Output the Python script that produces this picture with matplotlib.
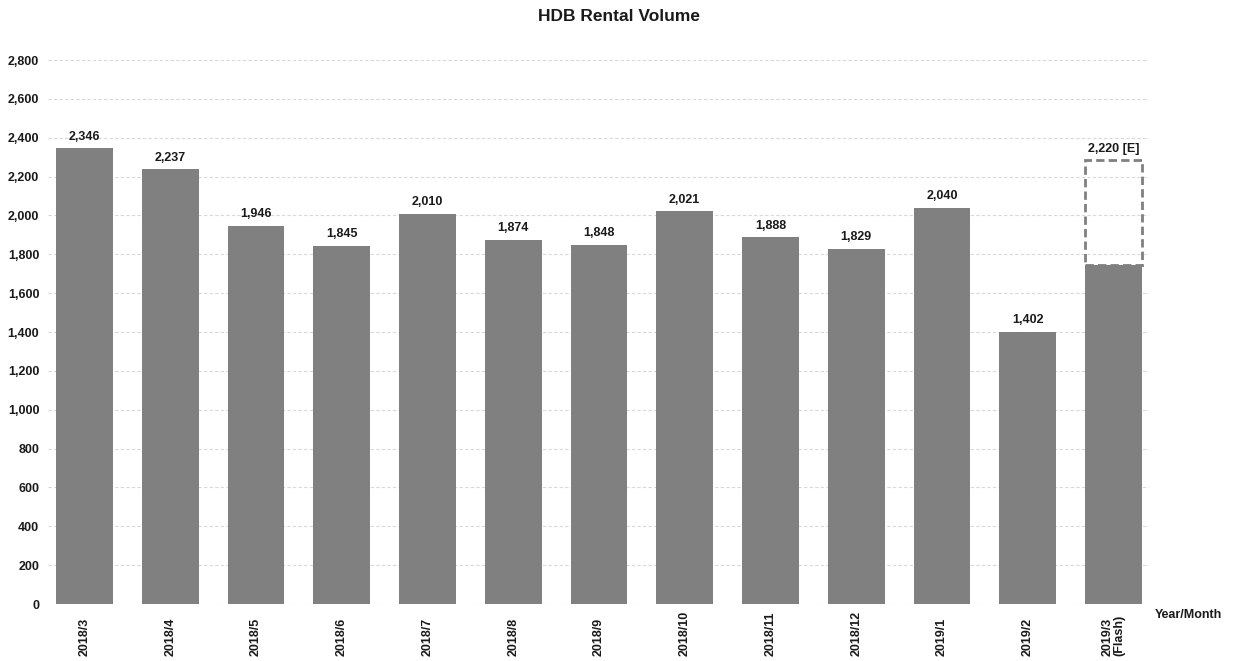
import matplotlib
matplotlib.use("Agg")
import matplotlib.pyplot as plt
from matplotlib.patches import Rectangle
from matplotlib.transforms import blended_transform_factory

plt.rcParams['font.family'] = ['Liberation Sans', 'DejaVu Sans']

months = ["2018/3", "2018/4", "2018/5", "2018/6", "2018/7", "2018/8", "2018/9",
          "2018/10", "2018/11", "2018/12", "2019/1", "2019/2", "2019/3\n(Flash)"]
volumes = [2346, 2237, 1946, 1845, 2010, 1874, 1848, 2021, 1888, 1829, 2040, 1402, 1745]
labels = ["2,346", "2,237", "1,946", "1,845", "2,010", "1,874", "1,848",
          "2,021", "1,888", "1,829", "2,040", "1,402", None]
estimate_top = 2285
estimate_label = "2,220 [E]"
yticks = list(range(0, 2801, 200))

fig = plt.figure(figsize=(12.38, 6.61), dpi=100)
ax = fig.add_axes([0.0385, 0.0862, 0.890, 0.8230])

x = list(range(len(months)))
width = 0.66
bar_color = "#808080"
text_color = "#1a1a1a"
ax.bar(x, volumes, width=width, color=bar_color, zorder=3)

for xi, v, lab in zip(x, volumes, labels):
    if lab:
        ax.annotate(lab, (xi, v), xytext=(0, 4), textcoords="offset points",
                    ha="center", va="bottom", fontsize=9, fontweight="bold", color=text_color)

# estimate box on last bar
last = x[-1]
rect = Rectangle((last - width / 2, volumes[-1]), width, estimate_top - volumes[-1],
                 fill=False, edgecolor="#808080", linestyle=(0, (3, 1.5)), linewidth=2, zorder=4)
ax.add_patch(rect)
ax.annotate(estimate_label, (last, estimate_top), xytext=(0, 4), textcoords="offset points",
            ha="center", va="bottom", fontsize=9, fontweight="bold", color=text_color)

ax.set_ylim(0, 2800)
ax.set_xlim(-0.43, len(months) - 1 + 0.42)
ax.set_yticks(yticks)
ax.set_yticklabels([f"{t:,}" for t in yticks], fontsize=9, fontweight="bold", color=text_color)
ax.set_xticks(x)
ax.set_xticklabels([])
ax.tick_params(axis="both", length=0, pad=6)
ax.grid(axis="y", color="#d9d9d9", linestyle=(0, (3, 2)), linewidth=0.8, zorder=0)
for s in ax.spines.values():
    s.set_visible(False)

# category labels, bottom-aligned like the original
trans = blended_transform_factory(ax.transData, fig.transFigure)
for xi, m in zip(x, months):
    ax.text(xi, 0.008, m, transform=trans, rotation=90, ha="center", va="bottom",
            multialignment="left", fontsize=9, fontweight="bold", color=text_color,
            linespacing=0.9)

fig.text(0.5, 0.975, "HDB Rental Volume", ha="center", va="center",
         fontsize=12.5, fontweight="bold", color=text_color)
fig.text(0.933, 0.07, "Year/Month", ha="left", va="center",
         fontsize=9, fontweight="bold", color=text_color)

fig.savefig("out.png", dpi=100)
